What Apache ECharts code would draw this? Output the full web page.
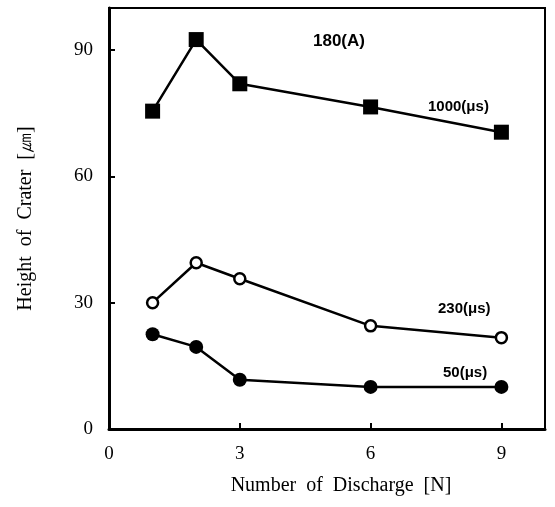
<!DOCTYPE html>
<html>
<head>
<meta charset="utf-8">
<script src="https://cdn.jsdelivr.net/npm/echarts@6/dist/echarts.min.js"></script>
<style>
  html, body { margin: 0; padding: 0; background: #fff; }
  #chart { width: 555px; height: 507px; }
</style>
</head>
<body>
<div id="chart"></div>
<script>
// number of discharges
const discharges = [1, 2, 3, 6, 9];
// crater height
const h1000 = [75.5, 92.5, 82, 76.5, 70.5];
const h230 = [30, 39.5, 35.7, 24.5, 21.7];
const h50 = [22.5, 19.5, 11.7, 10, 10];

const chart = echarts.init(document.getElementById('chart'));

function pairs(ys) {
  return discharges.map((x, i) => [x, ys[i]]);
}

const serif = '"Liberation Serif", "DejaVu Serif", serif';
const sans = '"Liberation Sans", Arial, sans-serif';

const lineBase = {
  type: 'line',
  lineStyle: { color: '#000', width: 2.5 },
  silent: true
};

let option = {
  animation: false,
  grid: {
    left: 109,
    right: 10,
    top: 8,
    bottom: 78,
    show: true,
    borderColor: '#000',
    borderWidth: 2
  },
  xAxis: {
    type: 'value',
    min: 0,
    max: 10,
    interval: 3,
    name: 'Number  of  Discharge  [N]',
    nameLocation: 'middle',
    nameGap: 47,
    nameTextStyle: { color: '#000', fontFamily: serif, fontSize: 20, padding: [0, 0, 0, 28] },
    axisLine: { lineStyle: { color: '#000', width: 3 } },
    axisTick: { inside: true, length: 6, lineStyle: { color: '#000', width: 2 } },
    axisLabel: { color: '#000', fontFamily: serif, fontSize: 19, margin: 16, showMaxLabel: false },
    splitLine: { show: false }
  },
  yAxis: {
    type: 'value',
    min: 0,
    max: 100,
    interval: 30,
    name: 'Height  of  Crater  [㎛]',
    nameLocation: 'middle',
    nameGap: 73,
    nameTextStyle: { color: '#000', fontFamily: serif, fontSize: 20 },
    axisLine: { lineStyle: { color: '#000', width: 3 } },
    axisTick: { inside: true, length: 6, lineStyle: { color: '#000', width: 2 } },
    axisLabel: { color: '#000', fontFamily: serif, fontSize: 19, margin: 16, showMaxLabel: false },
    splitLine: { show: false }
  },
  graphic: [
    { type: 'text', left: 313, top: 33, style: { text: '180(A)', font: 'bold 17px ' + sans, fill: '#000' } },
    { type: 'text', left: 428, top: 99, style: { text: '1000(μs)', font: 'bold 15px ' + sans, fill: '#000' } },
    { type: 'text', left: 438, top: 301, style: { text: '230(μs)', font: 'bold 15px ' + sans, fill: '#000' } },
    { type: 'text', left: 443, top: 365, style: { text: '50(μs)', font: 'bold 15px ' + sans, fill: '#000' } }
  ],
  series: [
    Object.assign({}, lineBase, {
      name: '1000',
      data: pairs(h1000),
      symbol: 'rect',
      symbolSize: 15,
      itemStyle: { color: '#000' }
    }),
    Object.assign({}, lineBase, {
      name: '230',
      data: pairs(h230),
      symbol: 'circle',
      symbolSize: 11,
      itemStyle: { color: '#fff', borderColor: '#000', borderWidth: 2.5 }
    }),
    Object.assign({}, lineBase, {
      name: '50',
      data: pairs(h50),
      symbol: 'circle',
      symbolSize: 14,
      itemStyle: { color: '#000' }
    })
  ]
};

chart.setOption(option);
</script>
</body>
</html>
